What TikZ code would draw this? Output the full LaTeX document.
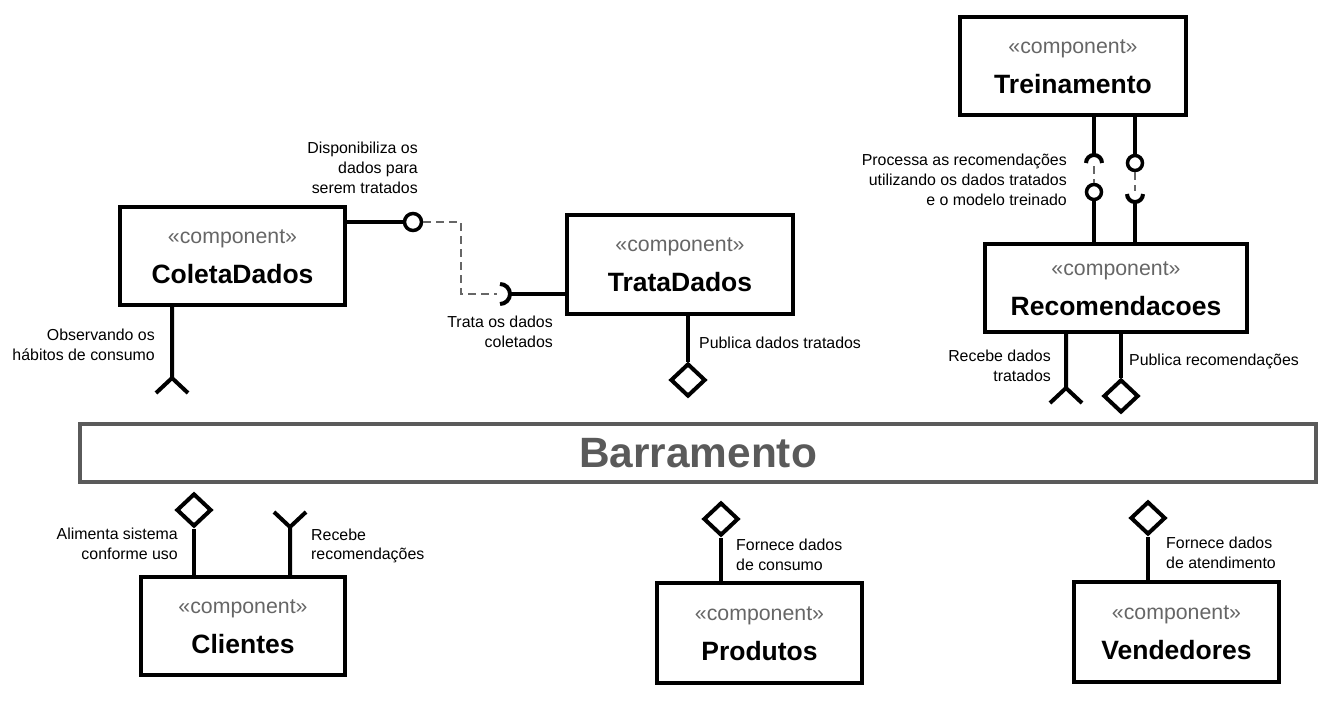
\documentclass[tikz,border=0pt]{standalone}
\usepackage{fontspec}
\setmainfont{Liberation Sans}
\usepackage{xcolor}
\usetikzlibrary{calc,shapes.geometric}
\definecolor{stereogray}{HTML}{666666}
\definecolor{busgray}{HTML}{5A5A5A}
\tikzset{
	lbl/.style={inner sep=0pt, font=\fontsize{15.9}{19.8}\selectfont}
}

\begin{document}
\begin{tikzpicture}[x=1pt, y=-1pt,
      comp/.style = {draw, line width=4pt, rectangle, inner sep=0pt},
    stereo/.style = {anchor=base, inner sep=0pt, text=stereogray,
                     font=\fontsize{21.3}{24}\selectfont},
     cname/.style = {anchor=base, inner sep=0pt,
                     font=\fontsize{26.5}{30}\selectfont\bfseries},
      wire/.style = {line width=4pt},
  assembly/.style = {draw=stereogray, line width=2pt, dash pattern=on 8pt off 5pt},
      port/.style = {diamond, draw, fill=white, line width=4pt, inner sep=0pt,
                     minimum width=35pt, minimum height=33pt},
     lolli/.style = {circle, draw, fill=white, line width=3.5pt, inner sep=0pt,
                     minimum size=#1},
     lolli/.default = 15pt,
       bus/.style = {draw=busgray, line width=4pt, text=busgray, inner sep=0pt,
                     minimum width=1236pt, minimum height=58pt,
                     font=\fontsize{42.4}{48}\selectfont\bfseries}
                    ]
\useasboundingbox (0,0) rectangle (1339,702);

% components
\node[comp, minimum width=225pt, minimum height=98pt]  (coleta)   at (232.5,256) {};
\node[comp, minimum width=226pt, minimum height=99pt]  (trata)    at (680,264.5) {};
\node[comp, minimum width=226pt, minimum height=98pt]  (treino)   at (1073,66)   {};
\node[comp, minimum width=262pt, minimum height=88pt]  (recom)    at (1116,288)  {};
\node[comp, minimum width=204pt, minimum height=98pt]  (clientes) at (243,626)   {};
\node[comp, minimum width=205pt, minimum height=100pt] (produtos) at (759.5,633) {};
\node[comp, minimum width=205pt, minimum height=100pt] (vend)     at (1176.5,632) {};

\foreach \c/\n in {coleta/ColetaDados, trata/TrataDados, treino/Treinamento,
                   recom/Recomendacoes, clientes/Clientes, produtos/Produtos,
                   vend/Vendedores}
{
  \node[stereo] (\c-st) at ($(\c.center)+(0,-13)$) {«component»};
  \node[cname]  (\c-nm) at ($(\c.center)+(0,27)$)  {\n};
}

% bus
\node[bus] (bus) at (698,453) {Barramento};

% ColetaDados -> TrataDados
\node[lolli=17pt] (coleta-out) at (413,222) {};
\coordinate (trata-sock) at (500,294);
\draw[wire] (coleta.east |- coleta-out) -- (coleta-out);
\draw[assembly] (coleta-out.east) -- ++(38,0) |- ([xshift=-3pt]trata-sock);
\draw[wire] ([yshift=-10pt]trata-sock) arc[start angle=-90, end angle=90, radius=10pt];
\draw[wire] ([xshift=10pt]trata-sock) -- (trata.west |- trata-sock);
\node[lbl, anchor=east, align=right] (coleta-out-l) at (418,168)
     {Disponibiliza os\\dados para\\serem tratados};
\node[lbl, anchor=east, align=right] (trata-sock-l) at (553,331.5)
     {Trata os dados\\coletados};

% ColetaDados -> bus
\coordinate (coleta-req) at (172,378);
\draw[wire] (coleta.south -| coleta-req) -- (coleta-req)
            -- ++(-16,15) (coleta-req) -- ++(16,15);
\node[lbl, anchor=east, align=right] (coleta-req-l) at (155,344.5)
     {Observando os\\hábitos de consumo};

% TrataDados -> bus
\node[port] (trata-pub) at (688,380) {};
\draw[wire] (trata.south -| trata-pub) -- (trata-pub.north);
\node[lbl, anchor=west] (trata-pub-l) at (699,343) {Publica dados tratados};

% Treinamento <-> Recomendacoes
\coordinate (treino-sock) at (1094,163);
\node[lolli] (recom-out) at (1094,192) {};
\draw[wire] (treino.south -| treino-sock) -- ([yshift=8pt]treino-sock);
\draw[wire] ([xshift=-8pt]treino-sock) arc[start angle=180, end angle=0, radius=8pt];
\draw[assembly] ([yshift=-3pt]treino-sock) -- (recom-out.north);
\draw[wire] (recom-out.south) -- (recom.north -| recom-out);

\node[lolli] (treino-out) at (1135,163) {};
\coordinate (recom-sock) at (1135,194);
\draw[wire] (treino.south -| treino-out) -- (treino-out.north);
\draw[assembly] (treino-out.south) -- ([yshift=3pt]recom-sock);
\draw[wire] ([xshift=-8pt]recom-sock) arc[start angle=180, end angle=360, radius=8pt];
\draw[wire] ([yshift=-8pt]recom-sock) -- (recom.north -| recom-sock);
\node[lbl, anchor=east, align=right] (treino-l) at (1067,180)
     {Processa as recomendações\\utilizando os dados tratados\\e o modelo treinado};

% Recomendacoes -> bus
\coordinate (recom-req) at (1066,388);
\draw[wire] (recom.south -| recom-req) -- (recom-req)
            -- ++(-16,15) (recom-req) -- ++(16,15);
\node[lbl, anchor=east, align=right] (recom-req-l) at (1051,366)
     {Recebe dados\\tratados};
\node[port] (recom-pub) at (1121,396) {};
\draw[wire] (recom.south -| recom-pub) -- (recom-pub.north);
\node[lbl, anchor=west] (recom-pub-l) at (1129,361) {Publica recomendações};

% bottom components
\node[port] (cli-pub) at (194,510) {};
\draw[wire] (clientes.north -| cli-pub) -- (cli-pub.south);
\node[lbl, anchor=east, align=right] (cli-pub-l) at (178,543.5)
     {Alimenta sistema\\conforme uso};
\coordinate (cli-req) at (290,527);
\draw[wire] (clientes.north -| cli-req) -- (cli-req)
            -- ++(-16,-15) (cli-req) -- ++(16,-15);
\node[lbl, anchor=west, align=left] (cli-req-l) at (311,546)
     {Recebe\\recomendações};

\node[port] (prod-pub) at (721,519) {};
\draw[wire] (produtos.north -| prod-pub) -- (prod-pub.south);
\node[lbl, anchor=west, align=left] (prod-pub-l) at (736,555)
     {Fornece dados\\de consumo};

\node[port] (vend-pub) at (1148,518) {};
\draw[wire] (vend.north -| vend-pub) -- (vend-pub.south);
\node[lbl, anchor=west, align=left] (vend-pub-l) at (1166,553)
     {Fornece dados\\de atendimento};
\end{tikzpicture}
\end{document}
